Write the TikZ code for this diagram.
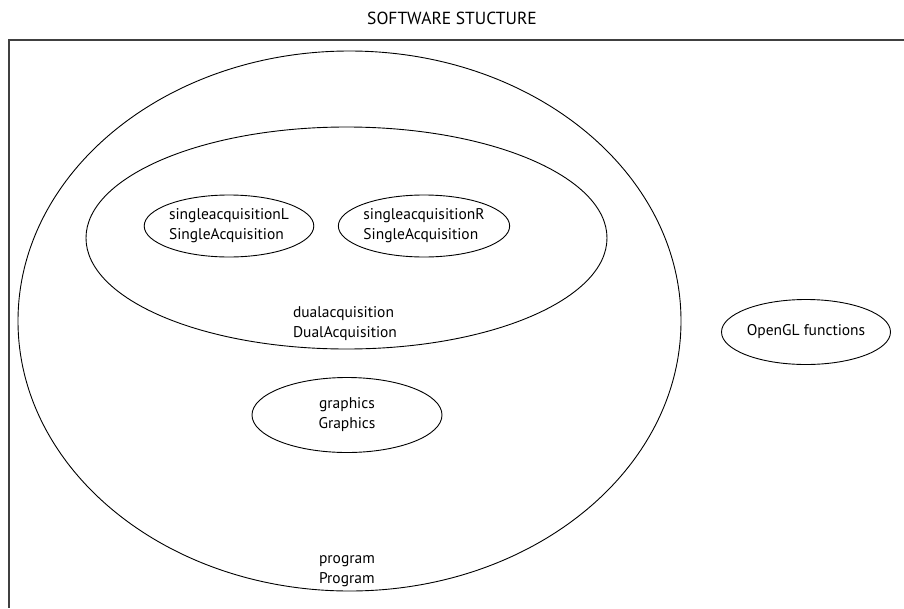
\documentclass[tikz,border=0pt]{standalone}
\usepackage{fontspec}
\setmainfont{PT Sans}
\usetikzlibrary{shapes.geometric}
\begin{document}
\begin{tikzpicture}[x=1pt,y=-1pt,
  oval/.style={ellipse, draw=black, line width=0.9pt, inner sep=0pt},
  txt/.style={font=\fontsize{15.5}{20}\selectfont},
  lbl/.style={txt, align=left, inner sep=0pt}]
\useasboundingbox (0,0) rectangle (904,608);
\node[txt, font=\fontsize{17.5}{20}\selectfont, inner sep=0pt] (title) at (452,18) {SOFTWARE STUCTURE};
\coordinate (fr1) at (904,40);
\coordinate (fr2) at (9,40);
\coordinate (fr3) at (9,608);
\draw[line width=1.1pt, black!75] (fr1) -- (fr2) -- (fr3);
\node[oval, minimum width=663pt, minimum height=540pt] (program) at (349.5,321) {};
\node[lbl] (programlbl) at (347,571) {program\\Program};
\node[oval, minimum width=521pt, minimum height=222pt] (dual) at (346.5,238) {};
\node[lbl] (duallbl) at (345,324) {dualacquisition\\DualAcquisition};
\node[oval, lbl, minimum width=162pt, minimum height=62pt] (sL) at (229,226) {singleacquisitionL\\SingleAcquisition};
\node[oval, lbl, minimum width=154pt, minimum height=62pt] (sR) at (424,226) {singleacquisitionR\\SingleAcquisition};
\node[oval, lbl, minimum width=190pt, minimum height=75pt, align=center] (gr) at (347,415) {graphics\\Graphics};
\node[oval, txt, inner sep=0pt, minimum width=169pt, minimum height=65pt] (ogl) at (806,332) {OpenGL functions};
\end{tikzpicture}
\end{document}
